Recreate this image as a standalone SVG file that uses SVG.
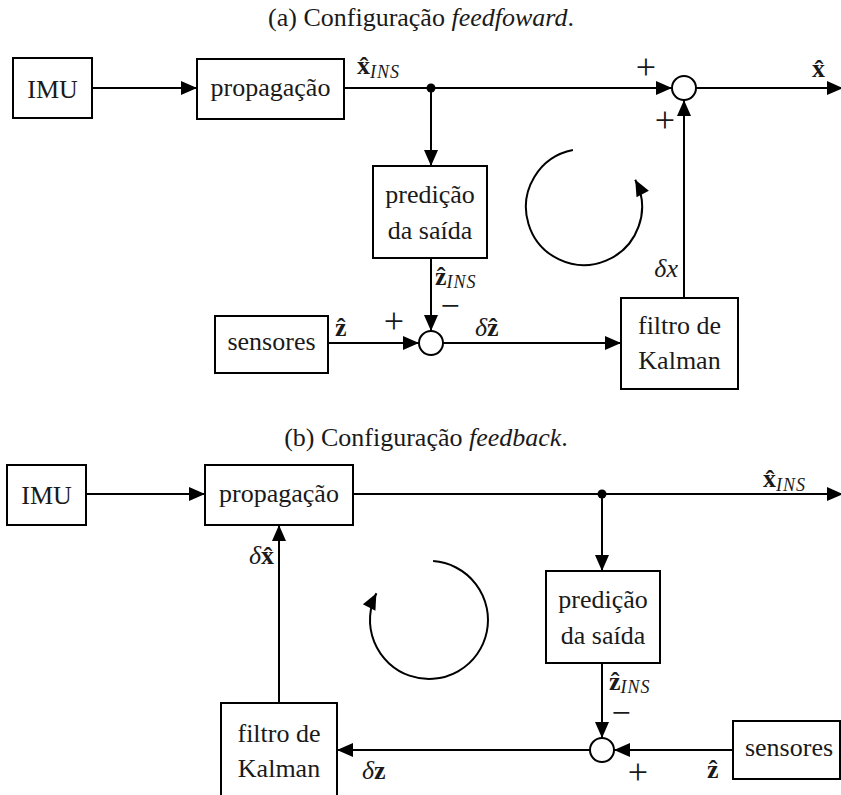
<svg xmlns="http://www.w3.org/2000/svg" width="841" height="795" viewBox="0 0 841 795">
<style>
.box{fill:#fff;stroke:#000;stroke-width:2}
.ln{fill:none;stroke:#000;stroke-width:2;marker-end:url(#ah)}
</style>
<defs>
<marker id="ah" markerUnits="userSpaceOnUse" markerWidth="16" markerHeight="14" refX="16" refY="7" orient="auto" overflow="visible">
<path d="M0,0 L16,7 L0,14 z" fill="#000"/>
</marker>
</defs>

<g id="titles" fill="#1a1a1a">
<text x="421" y="26" font-family="Liberation Serif, serif" font-size="26" text-anchor="middle">(a) Configuração <tspan font-style="italic">feedfoward</tspan>.</text>
<text x="426" y="446" font-family="Liberation Serif, serif" font-size="26" text-anchor="middle">(b) Configuração <tspan font-style="italic">feedback</tspan>.</text>
</g>

<g id="connectors">
<line class="ln" x1="92" y1="88" x2="197" y2="88"/>
<line class="ln" x1="344" y1="88" x2="672" y2="88"/>
<line class="ln" x1="696" y1="88" x2="843" y2="88"/>
<line class="ln" x1="431" y1="88" x2="431" y2="166"/>
<line class="ln" x1="431" y1="258" x2="431" y2="331"/>
<line class="ln" x1="328" y1="343" x2="419" y2="343"/>
<line class="ln" x1="443" y1="343" x2="621" y2="343"/>
<line class="ln" x1="684" y1="298" x2="684" y2="100"/>
<path class="ln" d="M572.9 150.1 A58 58 0 1 0 635.2 179.8"/>
<line class="ln" x1="86" y1="494" x2="205" y2="494"/>
<line class="ln" x1="353" y1="494" x2="843" y2="494"/>
<line class="ln" x1="602" y1="494" x2="602" y2="571"/>
<line class="ln" x1="602" y1="663" x2="602" y2="738"/>
<line class="ln" x1="733" y1="750" x2="614" y2="750"/>
<line class="ln" x1="590" y1="750" x2="337" y2="750"/>
<line class="ln" x1="279" y1="703" x2="279" y2="525"/>
<path class="ln" d="M433.1 561.1 A59 59 0 1 1 376.4 593.2"/>
<circle cx="431" cy="88" r="4.5" fill="#000"/>
<circle cx="602" cy="494" r="4.5" fill="#000"/>
</g>

<g id="imu_a"><rect class="box" x="13" y="58" width="79" height="60"/><text x="52.5" y="98" font-family="Liberation Serif, serif" font-size="26" text-anchor="middle" fill="#1a1a1a">IMU</text></g>
<g id="prop_a"><rect class="box" x="197" y="59" width="147" height="60"/><text x="270.5" y="96" font-family="Liberation Serif, serif" font-size="26" text-anchor="middle" fill="#1a1a1a">propagação</text></g>
<g id="pred_a"><rect class="box" x="373" y="166" width="114" height="92"/><text x="430" y="203" font-family="Liberation Serif, serif" font-size="26" text-anchor="middle" fill="#1a1a1a">predição</text><text x="430" y="239" font-family="Liberation Serif, serif" font-size="26" text-anchor="middle" fill="#1a1a1a">da saída</text></g>
<g id="sens_a"><rect class="box" x="215" y="316" width="113" height="57"/><text x="271.5" y="350" font-family="Liberation Serif, serif" font-size="26" text-anchor="middle" fill="#1a1a1a">sensores</text></g>
<g id="kal_a"><rect class="box" x="621" y="298" width="117" height="91"/><text x="679.5" y="334" font-family="Liberation Serif, serif" font-size="26" text-anchor="middle" fill="#1a1a1a">filtro de</text><text x="679.5" y="369" font-family="Liberation Serif, serif" font-size="26" text-anchor="middle" fill="#1a1a1a">Kalman</text></g>
<g id="sum_a1"><circle class="box" cx="684" cy="88" r="12"/></g>
<g id="sum_a2"><circle class="box" cx="431" cy="343" r="12"/></g>

<g id="imu_b"><rect class="box" x="7" y="465" width="79" height="60"/><text x="46.5" y="504" font-family="Liberation Serif, serif" font-size="26" text-anchor="middle" fill="#1a1a1a">IMU</text></g>
<g id="prop_b"><rect class="box" x="205" y="465" width="148" height="60"/><text x="279" y="502" font-family="Liberation Serif, serif" font-size="26" text-anchor="middle" fill="#1a1a1a">propagação</text></g>
<g id="pred_b"><rect class="box" x="546" y="571" width="114" height="92"/><text x="603" y="608" font-family="Liberation Serif, serif" font-size="26" text-anchor="middle" fill="#1a1a1a">predição</text><text x="603" y="644" font-family="Liberation Serif, serif" font-size="26" text-anchor="middle" fill="#1a1a1a">da saída</text></g>
<g id="sens_b"><rect class="box" x="733" y="721" width="107" height="58"/><text x="789" y="756" font-family="Liberation Serif, serif" font-size="26" text-anchor="middle" fill="#1a1a1a">sensores</text></g>
<g id="kal_b"><rect class="box" x="221" y="703" width="116" height="95"/><text x="279" y="742" font-family="Liberation Serif, serif" font-size="26" text-anchor="middle" fill="#1a1a1a">filtro de</text><text x="279" y="777" font-family="Liberation Serif, serif" font-size="26" text-anchor="middle" fill="#1a1a1a">Kalman</text></g>
<g id="sum_b"><circle class="box" cx="602" cy="750" r="12"/></g>

<g id="labels" fill="#1a1a1a">
<text x="357" y="74" font-family="Liberation Serif, serif" font-size="26"><tspan font-weight="bold">x̂</tspan><tspan font-style="italic" font-size="18" letter-spacing="1" dy="4">INS</tspan></text>
<text x="812" y="77" font-family="Liberation Serif, serif" font-size="26" font-weight="bold">x̂</text>
<text x="435" y="285" font-family="Liberation Serif, serif" font-size="26"><tspan font-weight="bold">ẑ</tspan><tspan font-style="italic" font-size="18" letter-spacing="1" dy="3">INS</tspan></text>
<text x="335" y="336" font-family="Liberation Serif, serif" font-size="26" font-weight="bold">ẑ</text>
<text x="475" y="336" font-family="Liberation Serif, serif" font-size="26"><tspan font-style="italic">δ</tspan><tspan font-weight="bold">ẑ</tspan></text>
<text x="678" y="277" font-family="Liberation Serif, serif" font-size="26" font-style="italic" text-anchor="end">δx</text>
<text x="646" y="79" font-family="Liberation Serif, serif" font-size="36" text-anchor="middle">+</text>
<text x="665" y="132" font-family="Liberation Serif, serif" font-size="36" text-anchor="middle">+</text>
<text x="394" y="333" font-family="Liberation Serif, serif" font-size="36" text-anchor="middle">+</text>
<text x="450" y="317" font-family="Liberation Serif, serif" font-size="34" text-anchor="middle">−</text>

<text x="763" y="487" font-family="Liberation Serif, serif" font-size="26"><tspan font-weight="bold">x̂</tspan><tspan font-style="italic" font-size="18" letter-spacing="1" dy="4">INS</tspan></text>
<text x="274" y="564" font-family="Liberation Serif, serif" font-size="26" text-anchor="end"><tspan font-style="italic">δ</tspan><tspan font-weight="bold">x̂</tspan></text>
<text x="609" y="690" font-family="Liberation Serif, serif" font-size="26"><tspan font-weight="bold">ẑ</tspan><tspan font-style="italic" font-size="18" letter-spacing="1" dy="3">INS</tspan></text>
<text x="707" y="778" font-family="Liberation Serif, serif" font-size="26" font-weight="bold">ẑ</text>
<text x="362" y="779" font-family="Liberation Serif, serif" font-size="26"><tspan font-style="italic">δ</tspan><tspan font-weight="bold">z</tspan></text>
<text x="621" y="724" font-family="Liberation Serif, serif" font-size="34" text-anchor="middle">−</text>
<text x="638" y="784" font-family="Liberation Serif, serif" font-size="36" text-anchor="middle">+</text>
</g>
</svg>
